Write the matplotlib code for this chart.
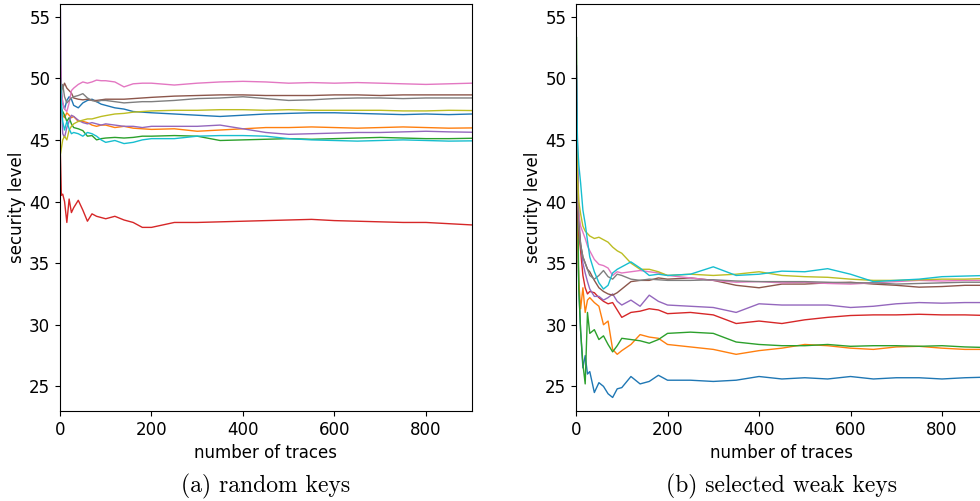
import matplotlib
matplotlib.use("Agg")
import matplotlib.pyplot as plt

traces = [1, 3, 6, 10, 15, 20, 25, 30, 40, 50, 60, 70, 80, 90, 100, 120, 140, 160,
          180, 200, 250, 300, 350, 400, 450, 500, 550, 600, 650, 700, 750, 800, 850, 900]

# (a) random keys, one list per key
rand_blue = [50.5, 49.0, 48.0, 47.5, 48.2, 48.5, 48.3, 47.8, 47.6, 48.0, 48.2, 48.3, 48.1, 47.9, 47.8, 47.6, 47.5, 47.3,
             47.25, 47.2, 47.1, 47.0, 46.9, 47.0, 47.1, 47.15, 47.2, 47.2, 47.15, 47.1, 47.05, 47.1, 47.05, 47.1]
rand_orange = [48.0, 47.5, 47.0, 46.8, 47.2, 47.0, 46.8, 46.9, 46.5, 46.5, 46.4, 46.2, 46.1, 46.2, 46.2, 46.0, 46.1, 45.95,
               45.9, 45.85, 45.9, 45.7, 45.8, 45.9, 46.0, 46.0, 46.05, 46.0, 45.95, 46.0, 46.05, 46.0, 45.95, 45.97]
rand_green = [49.0, 47.5, 47.3, 47.0, 46.5, 46.8, 46.3, 46.0, 45.9, 45.75, 45.3, 45.35, 45.0, 45.1, 45.15, 45.2, 45.15, 45.2,
              45.3, 45.3, 45.35, 45.3, 44.95, 45.0, 45.05, 45.1, 45.05, 45.1, 45.15, 45.2, 45.15, 45.1, 45.1, 45.13]
rand_red = [43.7, 40.5, 40.6, 40.0, 38.3, 40.2, 39.1, 39.5, 40.1, 39.3, 38.4, 39.0, 38.8, 38.7, 38.6, 38.8, 38.5, 38.3,
            37.9, 37.9, 38.3, 38.3, 38.35, 38.4, 38.45, 38.5, 38.55, 38.45, 38.4, 38.35, 38.3, 38.3, 38.2, 38.1]
rand_purple = [55.6, 48.0, 45.5, 45.2, 46.0, 46.5, 47.0, 46.9, 46.6, 46.4, 46.3, 46.4, 46.3, 46.2, 46.3, 46.2, 46.1, 46.1,
               46.0, 46.1, 46.1, 46.1, 46.2, 45.9, 45.6, 45.45, 45.5, 45.55, 45.6, 45.6, 45.65, 45.7, 45.65, 45.62]
rand_brown = [50.0, 49.5, 49.2, 49.6, 49.2, 49.0, 48.8, 48.4, 48.3, 48.25, 48.3, 48.2, 48.2, 48.25, 48.3, 48.3, 48.3, 48.35,
              48.4, 48.45, 48.55, 48.6, 48.65, 48.65, 48.6, 48.6, 48.6, 48.65, 48.65, 48.6, 48.65, 48.65, 48.65, 48.65]
rand_pink = [51.0, 49.0, 48.0, 47.5, 47.3, 48.0, 49.0, 49.2, 49.5, 49.7, 49.6, 49.7, 49.85, 49.8, 49.8, 49.7, 49.3, 49.55,
             49.6, 49.6, 49.45, 49.6, 49.7, 49.75, 49.7, 49.6, 49.65, 49.6, 49.65, 49.6, 49.55, 49.5, 49.55, 49.6]
rand_gray = [49.5, 48.8, 49.5, 48.5, 48.0, 48.2, 48.4, 48.5, 48.6, 48.75, 48.4, 48.2, 48.1, 48.2, 48.2, 48.1, 48.0, 48.05,
             48.1, 48.1, 48.2, 48.35, 48.4, 48.5, 48.35, 48.2, 48.25, 48.35, 48.4, 48.4, 48.35, 48.4, 48.4, 48.4]
rand_olive = [43.8, 44.3, 45.0, 45.3, 45.0, 45.8, 46.1, 46.3, 46.5, 46.6, 46.7, 46.7, 46.8, 46.9, 46.97, 47.1, 47.15, 47.25,
              47.3, 47.35, 47.4, 47.4, 47.45, 47.45, 47.4, 47.45, 47.4, 47.4, 47.4, 47.4, 47.35, 47.35, 47.4, 47.38]
rand_cyan = [50.0, 48.0, 46.5, 45.8, 46.5, 45.9, 45.5, 45.6, 45.5, 45.3, 45.6, 45.5, 45.3, 45.0, 44.8, 44.95, 44.7, 44.8,
             45.0, 45.1, 45.1, 45.3, 45.35, 45.35, 45.3, 45.1, 45.0, 44.95, 44.9, 44.95, 45.0, 44.95, 44.9, 44.92]

# (b) selected weak keys
weak_blue = [44.0, 38.0, 33.0, 29.5, 26.5, 27.5, 26.0, 26.2, 24.5, 25.3, 25.0, 24.4, 24.1, 24.8, 24.9, 25.8, 25.2, 25.4,
             25.9, 25.5, 25.5, 25.4, 25.5, 25.8, 25.6, 25.7, 25.6, 25.8, 25.6, 25.7, 25.7, 25.6, 25.7, 25.75]
weak_orange = [45.0, 38.0, 33.5, 31.3, 33.0, 31.0, 32.0, 32.2, 31.8, 31.5, 30.0, 30.3, 28.0, 27.6, 27.9, 28.4, 29.2, 29.0,
               28.9, 28.4, 28.2, 28.0, 27.6, 27.9, 28.1, 28.4, 28.3, 28.1, 28.0, 28.2, 28.25, 28.1, 28.0, 28.0]
weak_green = [53.3, 42.0, 33.0, 29.5, 26.8, 25.2, 31.0, 29.3, 29.6, 28.8, 29.1, 28.4, 27.8, 28.3, 28.9, 28.8, 28.7, 28.5,
              28.8, 29.3, 29.4, 29.3, 28.6, 28.4, 28.3, 28.3, 28.4, 28.25, 28.3, 28.3, 28.25, 28.3, 28.2, 28.15]
weak_red = [46.0, 40.0, 37.5, 36.0, 34.0, 33.0, 32.5, 32.7, 32.6, 32.2, 31.9, 31.7, 31.8, 31.2, 30.6, 31.0, 31.1, 31.3,
            31.2, 30.9, 31.0, 30.8, 30.1, 30.3, 30.1, 30.4, 30.6, 30.75, 30.8, 30.8, 30.85, 30.8, 30.8, 30.75]
weak_purple = [51.0, 45.0, 39.0, 36.5, 35.0, 34.2, 33.5, 32.9, 32.3, 32.3, 32.0, 32.2, 32.5, 31.9, 31.6, 32.0, 31.5, 32.4,
               31.9, 31.6, 31.5, 31.4, 31.0, 31.7, 31.6, 31.6, 31.6, 31.4, 31.5, 31.7, 31.8, 31.75, 31.8, 31.8]
weak_brown = [48.0, 42.0, 38.0, 36.5, 35.5, 35.0, 34.5, 34.3, 33.6, 33.0, 32.7, 32.5, 32.4, 32.6, 32.9, 33.5, 33.6, 33.6,
              33.8, 33.7, 33.8, 33.6, 33.2, 33.0, 33.3, 33.3, 33.4, 33.45, 33.3, 33.2, 33.05, 33.1, 33.2, 33.2]
weak_pink = [42.0, 40.5, 39.0, 38.0, 37.5, 37.0, 36.4, 36.0, 35.3, 34.9, 34.8, 34.6, 34.0, 34.3, 34.2, 34.3, 34.4, 34.3,
             34.2, 34.0, 33.8, 33.6, 33.45, 33.5, 33.4, 33.45, 33.35, 33.3, 33.4, 33.5, 33.6, 33.55, 33.6, 33.6]
weak_gray = [47.0, 41.0, 38.0, 36.5, 35.5, 35.0, 34.5, 34.0, 33.7, 34.0, 34.4, 33.9, 33.7, 34.1, 34.0, 33.7, 33.6, 33.7,
             33.65, 33.6, 33.6, 33.65, 33.55, 33.5, 33.5, 33.5, 33.45, 33.4, 33.4, 33.3, 33.35, 33.4, 33.45, 33.45]
weak_olive = [45.0, 42.0, 40.0, 39.0, 38.0, 37.6, 37.4, 37.2, 37.0, 37.1, 36.9, 36.7, 36.3, 36.0, 35.8, 35.0, 34.5, 34.5,
              34.3, 34.0, 34.1, 34.0, 34.1, 34.3, 34.0, 33.9, 33.85, 33.7, 33.6, 33.6, 33.65, 33.7, 33.7, 33.75]
weak_cyan = [50.0, 45.0, 43.0, 41.5, 39.3, 38.2, 36.8, 35.5, 34.3, 33.4, 32.9, 33.2, 34.2, 34.5, 34.7, 35.1, 34.6, 34.0,
             34.1, 34.0, 34.1, 34.7, 34.0, 34.1, 34.35, 34.3, 34.55, 34.1, 33.5, 33.6, 33.7, 33.9, 33.95, 34.0]

random_keys = [rand_blue, rand_orange, rand_green, rand_red, rand_purple,
               rand_brown, rand_pink, rand_gray, rand_olive, rand_cyan]
weak_keys = [weak_blue, weak_orange, weak_green, weak_red, weak_purple,
             weak_brown, weak_pink, weak_gray, weak_olive, weak_cyan]
captions = ["(a) random keys", "(b) selected weak keys"]

fig = plt.figure(figsize=(9.8, 5.01), dpi=100)
# right panel runs a little past the edge of the figure, as in the original
ax_a = fig.add_axes([0.0612, 0.1796, 0.4201, 0.8118])
ax_b = fig.add_axes([0.5878, 0.1796, 0.4201, 0.8118])

for ax, group, cap in zip([ax_a, ax_b], [random_keys, weak_keys], captions):
    for series in group:
        ax.plot(traces, series, linewidth=1.0)
    ax.set_xlim(0, 900)
    ax.set_ylim(23, 56)
    ax.set_xticks([0, 200, 400, 600, 800])
    ax.set_yticks([25, 30, 35, 40, 45, 50, 55])
    ax.tick_params(labelsize=12)
    ax.set_xlabel("number of traces", fontsize=12)
    ax.set_ylabel("security level", fontsize=12, labelpad=2)
    pos = ax.get_position()
    fig.text(pos.x0 + pos.width / 2, 0.03, cap, family="cmr10",
             fontsize=17, ha="center", va="center")

plt.savefig("out.png", dpi=100)
